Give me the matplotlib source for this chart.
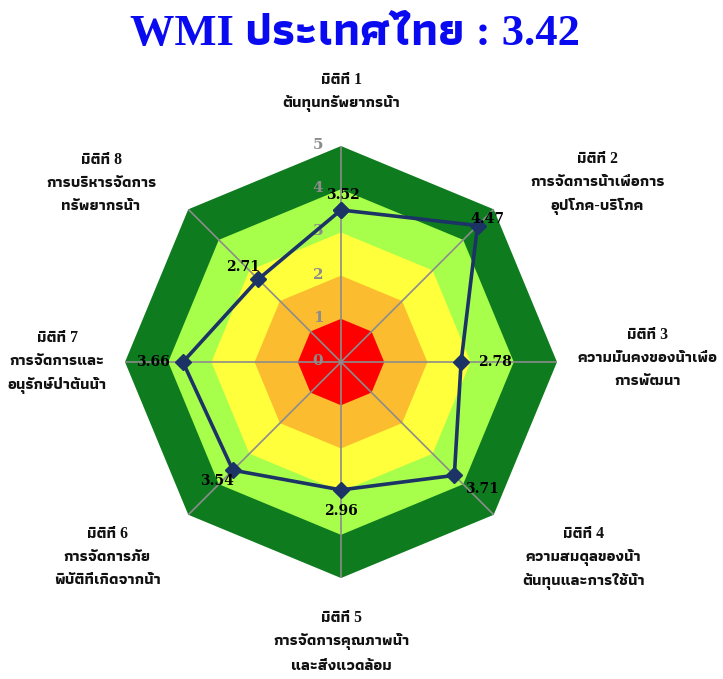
import numpy as np
import matplotlib
matplotlib.use("Agg")
import matplotlib.pyplot as plt
import matplotlib.transforms as mtransforms

# data
dims = [
    "มิติที่ 1\nต้นทุนทรัพยากรน้ำ",
    "มิติที่ 2\nการจัดการน้ำเพื่อการ\nอุปโภค-บริโภค",
    "มิติที่ 3\nความมั่นคงของน้ำเพื่อ\nการพัฒนา",
    "มิติที่ 4\nความสมดุลของน้ำ\nต้นทุนและการใช้น้ำ",
    "มิติที่ 5\nการจัดการคุณภาพน้ำ\nและสิ่งแวดล้อม",
    "มิติที่ 6\nการจัดการภัย\nพิบัติที่เกิดจากน้ำ",
    "มิติที่ 7\nการจัดการและ\nอนุรักษ์ป่าต้นน้ำ",
    "มิติที่ 8\nการบริหารจัดการ\nทรัพยากรน้ำ",
]
scores = [3.52, 4.47, 2.78, 3.71, 2.96, 3.54, 3.66, 2.71]
wmi = 3.42
levels = [5, 4, 3, 2, 1]
level_colors = ["#0E7C1E", "#A8FF4B", "#FFFF3C", "#FBBD2F", "#FF0000"]
ticks = [0, 1, 2, 3, 4, 5]

thai = ["Liberation Serif", "Athiti"]

fig = plt.figure(figsize=(7.23, 6.79), dpi=100)
ax = fig.add_axes([0.1729, 0.1487, 0.5975, 0.6362], projection="polar")
ax.set_theta_offset(np.pi / 2)
ax.set_theta_direction(-1)
ax.set_ylim(0, 5)
ax.grid(False)
ax.spines["polar"].set_visible(False)
ax.set_xticks([])
ax.set_yticks([])
ax.patch.set_alpha(0)

n = len(scores)
theta = np.arange(n) * 2 * np.pi / n
theta_c = np.append(theta, theta[0])

# octagon bands
for lv, col in zip(levels, level_colors):
    ax.fill(theta_c, np.full(n + 1, lv), color=col, lw=0, zorder=1)

# spokes
for t in theta:
    ax.plot([t, t], [0, 5], color="#8C8C8C", lw=1.2, zorder=2)

# radial tick labels
off = mtransforms.offset_copy(ax.transData, fig=fig, x=-23, y=1, units="dots")
for tk in ticks:
    ax.text(0, tk, str(tk), transform=off, ha="center", va="center",
            color="#8C8C8C", fontsize=11, family="DejaVu Serif", fontweight="bold", zorder=3)

# score line
sc = np.append(scores, scores[0])
ax.plot(theta_c, sc, color="#1C3366", lw=2.6, marker="D", ms=8, zorder=4)

# score labels: offsets in pixels
lab_off = [(2, 15), (10, 7), (34, 0), (28, -14), (0, -21), (-16, -11), (-30, 0), (-15, 12)]
for t, v, (dx, dy) in zip(theta, scores, lab_off):
    tr = mtransforms.offset_copy(ax.transData, fig=fig, x=dx, y=dy, units="dots")
    ax.text(t, v, f"{v:.2f}", transform=tr, ha="center", va="center",
            fontsize=10, family="DejaVu Serif", fontweight="bold", color="black", zorder=5)

# dimension labels: radius and pixel shift
lab_r = [6.25, 5.86, 7.1, 6.42, 6.48, 6.38, 6.57, 5.86]
lab_dx = [0, 77, 0, 46, 0, -39, 0, -61]
lab_dy = [0, 0, 4, 0, 0, 0, 0, 0]
for t, txt, r, dx, dy in zip(theta, dims, lab_r, lab_dx, lab_dy):
    tr = mtransforms.offset_copy(ax.transData, fig=fig, x=dx, y=dy, units="dots")
    ax.text(t, r, txt, transform=tr, ha="center", va="center", fontsize=11.3,
            family=thai, fontweight="bold",
            color="#111111", linespacing=1.6, clip_on=False)

fig.text(0.491, 0.95, f"WMI ประเทศไทย : {wmi:.2f}", ha="center", va="center",
         fontsize=32, family=thai, fontweight="bold", color="#0A0AF0")

fig.savefig("out.png")
